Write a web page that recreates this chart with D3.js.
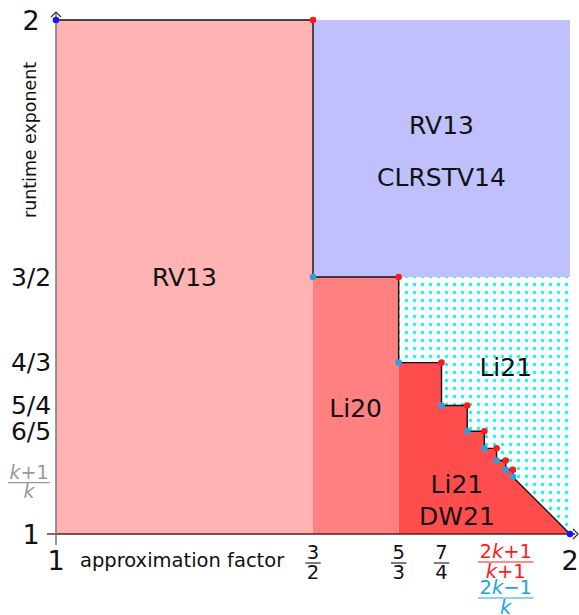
<!DOCTYPE html>
<html>
<head>
<meta charset="utf-8">
<script src="https://cdn.jsdelivr.net/npm/d3@7"></script>
<style>
  html, body { margin: 0; padding: 0; background: #fff; }
  svg { display: block; font-family: "DejaVu Sans", sans-serif; }
</style>
</head>
<body>
<svg id="chart" width="579" height="615"></svg>
<script>
// corner points of the staircase (approximation factor, runtime exponent)
var redPoints = [[3/2, 2], [5/3, 3/2], [7/4, 4/3], [9/5, 5/4], [11/6, 6/5], [13/7, 7/6], [15/8, 8/7], [17/9, 9/8]];
var bluePoints = [[1, 2], [3/2, 3/2], [5/3, 4/3], [7/4, 5/4], [9/5, 6/5], [11/6, 7/6], [13/7, 8/7], [15/8, 9/8], [17/9, 10/9], [2, 1]];

var xTickValues = [3/2, 5/3, 7/4];
var xTickNum = ["3", "5", "7"];
var xTickDen = ["2", "3", "4"];
var yTickValues = [2, 3/2, 4/3, 5/4, 6/5, 1];
var yTickLabels = ["2", "3/2", "4/3", "5/4", "6/5", "1"];

var regionLabels = [
  { lines: ["RV13"], at: [1.25, 1.5], gap: 0 },
  { lines: ["RV13", "CLRSTV14"], at: [1.75, 1.745], gap: 52 },
  { lines: ["Li20"], at: [1.583, 1.245], gap: 0 },
  { lines: ["Li21", "DW21"], at: [1.78, 1.066], gap: 32 },
  { lines: ["Li21"], at: [1.875, 1.323], gap: 0 }
];

var svg = d3.select("#chart");
var x = d3.scaleLinear().domain([1, 2]).range([56, 570]);
var y = d3.scaleLinear().domain([1, 2]).range([534, 20]);

var defs = svg.append("defs");
var pat = defs.append("pattern")
    .attr("id", "dots")
    .attr("patternUnits", "userSpaceOnUse")
    .attr("width", 8).attr("height", 8);
pat.append("circle").attr("cx", 6.5).attr("cy", 4.5).attr("r", 1.7).attr("fill", "#00ffff");

var line = d3.line().x(function(d) { return x(d[0]); }).y(function(d) { return y(d[1]); });

function rect(x0, x1, y0, y1, fill) {
  svg.append("rect")
      .attr("x", x(x0)).attr("y", y(y1))
      .attr("width", x(x1) - x(x0)).attr("height", y(y0) - y(y1))
      .attr("fill", fill);
}

rect(1, 3/2, 1, 2, "#ffb3b3");
rect(3/2, 2, 3/2, 2, "#c0c0ff");
rect(3/2, 5/3, 1, 3/2, "#ff8080");

// staircase path: blue, red, blue, red ... ending at (2,1)
var stairs = [];
bluePoints.forEach(function(b, i) {
  stairs.push(b);
  if (i < redPoints.length) stairs.push(redPoints[i]);
});

// Li21 / DW21 region under the staircase
var lower = [[5/3, 1]].concat(stairs.slice(4));
svg.append("path").attr("d", line(lower) + "Z").attr("fill", "#ff4d4d");

// dotted region above the staircase
var upper = stairs.slice(3).concat([[2, 3/2]]);
svg.append("path").attr("d", line(upper) + "Z").attr("fill", "url(#dots)");

// axes
svg.append("line")
    .attr("x1", 47).attr("x2", 575).attr("y1", y(1)).attr("y2", y(1))
    .attr("stroke", "#5a1c1c").attr("stroke-width", 1.5);
svg.append("line")
    .attr("x1", 47).attr("x2", x(1)).attr("y1", y(1)).attr("y2", y(1))
    .attr("stroke", "#777").attr("stroke-width", 1.5);
svg.append("line")
    .attr("x1", x(1)).attr("x2", x(1)).attr("y1", 545).attr("y2", 13)
    .attr("stroke", "#777").attr("stroke-width", 1.5);
svg.append("path")
    .attr("d", "M51,17 L56,12 L61,17")
    .attr("fill", "none").attr("stroke", "#333").attr("stroke-width", 1.2);
svg.append("path")
    .attr("d", "M573,529 L578,534 L573,539")
    .attr("fill", "none").attr("stroke", "#333").attr("stroke-width", 1.2);

// staircase line
svg.append("path")
    .attr("d", line(stairs))
    .attr("fill", "none").attr("stroke", "#111").attr("stroke-width", 1.4);

// corner dots
svg.selectAll("circle.red").data(redPoints).enter().append("circle")
    .attr("class", "red")
    .attr("cx", function(d) { return x(d[0]); })
    .attr("cy", function(d) { return y(d[1]); })
    .attr("r", 3.3).attr("fill", "#ff1a1a");
svg.selectAll("circle.blue").data(bluePoints).enter().append("circle")
    .attr("class", "blue")
    .attr("cx", function(d) { return x(d[0]); })
    .attr("cy", function(d) { return y(d[1]); })
    .attr("r", 3.3)
    .attr("fill", function(d, i) { return (i === 0 || i === bluePoints.length - 1) ? "#1414ff" : "#2c9fe0"; });

// region labels
regionLabels.forEach(function(r) {
  var n = r.lines.length;
  r.lines.forEach(function(t, i) {
    svg.append("text")
        .attr("x", x(r.at[0]))
        .attr("y", y(r.at[1]) + (i - (n - 1) / 2) * r.gap)
        .attr("text-anchor", "middle")
        .attr("dominant-baseline", "central")
        .attr("font-size", 25)
        .attr("fill", "#111")
        .text(t);
  });
});

// y tick labels
svg.selectAll("text.ytick").data(yTickValues).enter().append("text")
    .attr("class", "ytick")
    .attr("x", 31)
    .attr("y", function(d) { return y(d); })
    .attr("text-anchor", "middle")
    .attr("dominant-baseline", "central")
    .attr("font-size", function(d, i) { return (d === 1 || d === 2) ? 27 : 25; })
    .attr("fill", "#111")
    .text(function(d, i) { return yTickLabels[i]; });

// stacked fraction helper; parts are arrays of [text, italic]
function fraction(cx, bar, num, den, size, color) {
  var g = svg.append("g").attr("fill", color);
  function put(parts, yy) {
    var t = g.append("text").attr("x", cx).attr("y", yy)
        .attr("text-anchor", "middle").attr("font-size", size);
    parts.forEach(function(p) {
      t.append("tspan").attr("font-style", p[1] ? "italic" : "normal").text(p[0]);
    });
    return t.node().getComputedTextLength();
  }
  var w = Math.max(put(num, bar - 4), put(den, bar + 15.5)) + 3;
  g.append("line").attr("x1", cx - w / 2).attr("x2", cx + w / 2)
      .attr("y1", bar).attr("y2", bar)
      .attr("stroke", color).attr("stroke-width", 1.1);
}

xTickValues.forEach(function(v, i) {
  fraction(x(v), 563, [[xTickNum[i]]], [[xTickDen[i]]], 19.5, "#111");
});
fraction(x(15/8), 562, [["2"], ["k", true], ["+1"]], [["k", true], ["+1"]], 19.5, "#ff1a1a");
fraction(x(15/8), 598, [["2"], ["k", true], ["\u22121"]], [["k", true]], 19.5, "#22a3e6");
fraction(29, y(1.1), [["k", true], ["+1"]], [["k", true]], 19, "#999");

svg.append("text").attr("x", x(1)).attr("y", 570)
    .attr("text-anchor", "middle").attr("font-size", 27).attr("fill", "#111").text("1");
svg.append("text").attr("x", x(2)).attr("y", 570)
    .attr("text-anchor", "middle").attr("font-size", 27).attr("fill", "#111").text("2");

// axis titles
svg.append("text").attr("x", 80).attr("y", 567)
    .attr("font-size", 19.5).attr("fill", "#111").text("approximation factor");
svg.append("text")
    .attr("transform", "translate(36,140) rotate(-90)")
    .attr("text-anchor", "middle").attr("font-size", 17.4).attr("fill", "#111")
    .text("runtime exponent");
</script>
</body>
</html>
